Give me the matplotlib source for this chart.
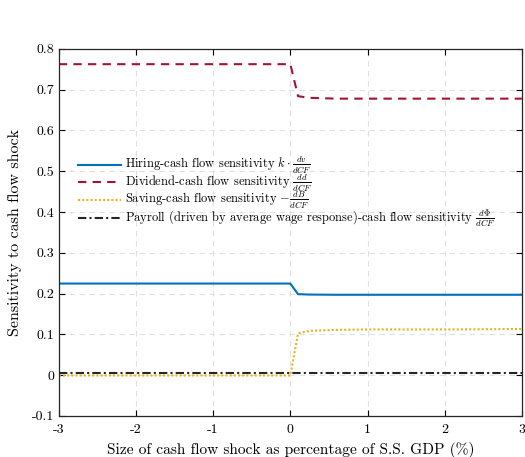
import matplotlib
matplotlib.use("Agg")
import matplotlib.pyplot as plt

plt.rcParams['font.family'] = ['cmr10', 'DejaVu Serif']
plt.rcParams['mathtext.fontset'] = 'cm'
plt.rcParams['axes.unicode_minus'] = False
plt.rcParams['axes.formatter.use_mathtext'] = True

x = [-3.0, -2.0, -1.0, 0.0, 0.1, 0.25, 0.6, 1.0, 2.0, 3.0]
hiring = [0.2245, 0.2245, 0.2245, 0.2245, 0.1985, 0.1975, 0.197, 0.197, 0.197, 0.197]
dividend = [0.7625, 0.7625, 0.7625, 0.7625, 0.684, 0.680, 0.678, 0.678, 0.678, 0.678]
saving = [-0.001, -0.001, -0.001, -0.001, 0.1025, 0.1085, 0.111, 0.112, 0.112, 0.113]
payroll = [0.005, 0.005, 0.005, 0.005, 0.005, 0.005, 0.005, 0.005, 0.005, 0.005]

labels = [
    r'Hiring-cash flow sensitivity $k\cdot\frac{dv}{dCF}$',
    r'Dividend-cash flow sensitivity $\frac{dd}{dCF}$',
    r'Saving-cash flow sensitivity $-\frac{dB}{dCF}$',
    r'Payroll (driven by average wage response)-cash flow sensitivity $\frac{d\Phi}{dCF}$',
]
xticks = [-3, -2, -1, 0, 1, 2, 3]
yticks = [-0.1, 0, 0.1, 0.2, 0.3, 0.4, 0.5, 0.6, 0.7, 0.8]
ytick_labels = ['-0.1', '0', '0.1', '0.2', '0.3', '0.4', '0.5', '0.6', '0.7', '0.8']
xtick_labels = ['-3', '-2', '-1', '0', '1', '2', '3']

fig = plt.figure(figsize=(5.25, 4.57), dpi=100)
ax = fig.add_axes([0.112, 0.09, 0.882, 0.803])

ax.plot(x, hiring, color='#0072BD', lw=1.5, ls='-', label=labels[0])
ax.plot(x, dividend, color='#A2142F', lw=1.5, ls=(0, (4, 3)), label=labels[1])
ax.plot(x, saving, color='#EDB120', lw=1.5, ls=(0, (1, 1)), label=labels[2])
ax.plot(x, payroll, color='#262626', lw=1.5, ls=(0, (4, 1.5, 1, 1.5)), label=labels[3])

ax.set_xlim(-3, 3)
ax.set_ylim(-0.1, 0.8)
ax.set_xticks(xticks)
ax.set_xticklabels(xtick_labels)
ax.set_yticks(yticks)
ax.set_yticklabels(ytick_labels)
ax.tick_params(direction='in', top=True, right=True, labelsize=10, length=4, width=0.8)
ax.tick_params(axis='x', pad=6)
ax.grid(True, ls=(0, (5, 4)), color='#e0e0e0', lw=0.8)
for s in ax.spines.values():
    s.set_linewidth(0.9)
    s.set_color('#262626')

ax.set_xlabel('Size of cash flow shock as percentage of S.S. GDP (%)', fontsize=11.1, labelpad=4)
ax.set_ylabel('Sensitivity to cash flow shock', fontsize=11.5, labelpad=7)

leg = ax.legend(loc='upper left', bbox_to_anchor=(0.03, 0.724), frameon=False, fontsize=9.0,
                handlelength=3.45, handletextpad=0.3, labelspacing=-0.3, borderaxespad=0)

fig.savefig('out.png', dpi=100)
